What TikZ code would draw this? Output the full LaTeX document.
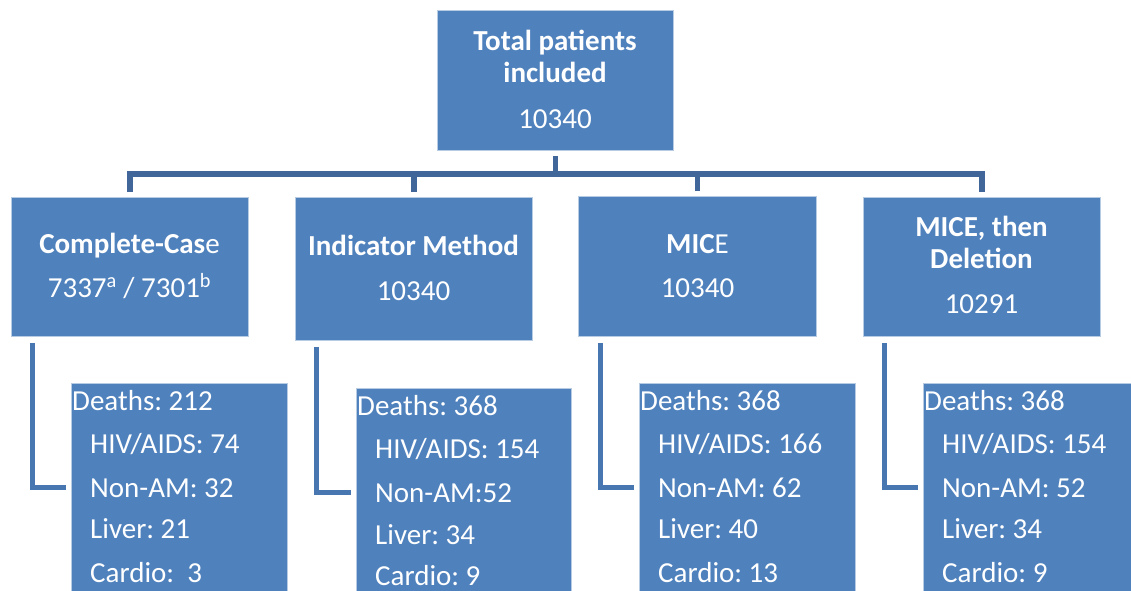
\documentclass[tikz,border=0pt]{standalone}
\usepackage{fontspec}
\setmainfont{Carlito}
\frenchspacing
\definecolor{boxblue}{HTML}{4F81BD}
\definecolor{boxedge}{HTML}{B7CBE3}
\definecolor{connA}{HTML}{40669A}
\definecolor{connB}{HTML}{4876B0}
\begin{document}
\begin{tikzpicture}[x=1pt,y=-1pt,
  box/.style={rectangle, draw=boxedge, line width=0.8pt, fill=boxblue, anchor=north west, inner sep=0pt},
  txt/.style={text=white, inner sep=0pt, font=\fontsize{29}{35}\selectfont\frenchspacing},
  ctxt/.style={txt, anchor=base},
  ltxt/.style={txt, anchor=base west},
  conn/.style={draw=connA, line width=5.5pt},
  elbow/.style={draw=connB, line width=5pt}]
\useasboundingbox (0,0) rectangle (1131,590);
\fill[white] (0,0) rectangle (1131,590);
\clip (0,0) rectangle (1131,590);

% top box
\node[box, minimum width=236pt, minimum height=140pt] (top) at (437,10) {};
\node[ctxt] (t1) at (555,50) {\bfseries Total patients};
\node[ctxt] (t2) at (555,82) {\bfseries included};
\node[ctxt] (t3) at (555,128) {10340};

% level 2 boxes
\node[box, minimum width=237pt, minimum height=139pt] (b1) at (11,197) {};
\node[box, minimum width=237pt, minimum height=143pt] (b2) at (295,197) {};
\node[box, minimum width=238pt, minimum height=140pt] (b3) at (578,196) {};
\node[box, minimum width=237pt, minimum height=139pt] (b4) at (863,197) {};

\node[ctxt] (b1a) at (129.5,253) {\textbf{Complete-Cas}e};
\node[ctxt] (b1b) at (129.5,297) {7337\textsuperscript{a} / 7301\textsuperscript{b}};
\node[ctxt] (b2a) at (413.5,255) {\bfseries Indicator Method};
\node[ctxt] (b2b) at (413.5,300) {10340};
\node[ctxt] (b3a) at (697.5,253) {\textbf{MIC}E};
\node[ctxt] (b3b) at (697.5,297) {10340};
\node[ctxt] (b4a) at (981.5,236) {\bfseries MICE, then};
\node[ctxt] (b4b) at (981.5,268) {\bfseries Deletion};
\node[ctxt] (b4c) at (981.5,313) {10291};

% level 3 boxes
\node[box, minimum width=216pt, minimum height=220pt] (d1) at (71,383) {};
\node[box, minimum width=215pt, minimum height=220pt] (d2) at (356,388) {};
\node[box, minimum width=216pt, minimum height=220pt] (d3) at (639,383) {};
\node[box, minimum width=216pt, minimum height=220pt] (d4) at (923,383) {};

\node[ltxt] (d1a) at (72,410) {Deaths: 212};
\node[ltxt] (d1b) at (90,453) {HIV/AIDS: 74};
\node[ltxt] (d1c) at (90,497) {Non-AM: 32};
\node[ltxt] (d1d) at (90,538) {Liver: 21};
\node[ltxt] (d1e) at (90,582) {Cardio: \ 3};

\node[ltxt] (d2a) at (357,415) {Deaths: 368};
\node[ltxt] (d2b) at (375,458) {HIV/AIDS: 154};
\node[ltxt] (d2c) at (375,502) {Non-AM:52};
\node[ltxt] (d2d) at (375,544) {Liver: 34};
\node[ltxt] (d2e) at (375,585) {Cardio: 9};

\node[ltxt] (d3a) at (640,410) {Deaths: 368};
\node[ltxt] (d3b) at (658,453) {HIV/AIDS: 166};
\node[ltxt] (d3c) at (658,497) {Non-AM: 62};
\node[ltxt] (d3d) at (658,538) {Liver: 40};
\node[ltxt] (d3e) at (658,582) {Cardio: 13};

\node[ltxt] (d4a) at (924,410) {Deaths: 368};
\node[ltxt] (d4b) at (942,453) {HIV/AIDS: 154};
\node[ltxt] (d4c) at (942,497) {Non-AM: 52};
\node[ltxt] (d4d) at (942,538) {Liver: 34};
\node[ltxt] (d4e) at (942,582) {Cardio: 9};

% connectors top -> level 2
\draw[conn] ([yshift=-5pt]top.south) -- ([yshift=-23pt]top.south) coordinate (j);
\foreach \b in {b1,b2,b3,b4}
  \draw[conn] ([yshift=5pt]\b.north) |- (j);

% elbows level 2 -> level 3
\draw[elbow] ([xshift=21pt,yshift=-6pt]b1.south west) |- ([xshift=-5pt,yshift=-104pt]d1.north west);
\draw[elbow] ([xshift=21pt,yshift=-6pt]b2.south west) |- ([xshift=-5pt,yshift=-104pt]d2.north west);
\draw[elbow] ([xshift=22.5pt,yshift=-6pt]b3.south west) |- ([xshift=-5pt,yshift=-104pt]d3.north west);
\draw[elbow] ([xshift=21pt,yshift=-6pt]b4.south west) |- ([xshift=-5pt,yshift=-104pt]d4.north west);
\end{tikzpicture}
\end{document}
